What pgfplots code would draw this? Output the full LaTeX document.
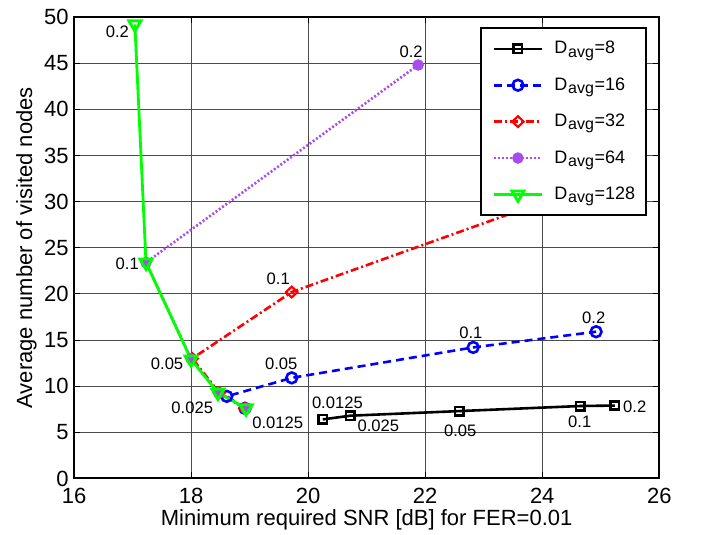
\documentclass[border=0pt]{standalone}
\usepackage{fontspec}
\setmainfont{Liberation Sans}
\usepackage{pgfplots}
\pgfplotsset{compat=1.18}
\usetikzlibrary{calc}
\definecolor{mpurple}{RGB}{166,77,235}
\definecolor{mgreen}{RGB}{0,255,0}
\newcommand{\Davg}[1]{D\kern0.4pt\raisebox{-1.6pt}{\fontsize{8}{9}\selectfont avg}\kern0.3pt=#1}
\newcommand{\lab}{\fontsize{8.3}{10}\selectfont}

\begin{document}
\begin{tikzpicture}
\begin{axis}[
  name=main,
  scale only axis, width=292.6pt, height=230.7pt,
  xmin=16, xmax=26, ymin=0, ymax=50,
  xtick={16,18,...,26}, ytick={0,5,...,50},
  grid=major, major grid style={black!70, line width=0.5pt},
  axis line style={line width=1pt},
  tick style={black, line width=0.5pt}, tick align=inside, major tick length=3pt,
  font=\fontsize{11}{13}\selectfont,
  /pgf/number format/assume math mode=true,
  xticklabel style={inner sep=0pt, yshift=-4.7pt},
  yticklabel style={inner sep=0pt, xshift=-2.5pt},
  xlabel={Minimum required SNR [dB] for FER=0.01},
  ylabel={Average number of visited nodes},
  xlabel style={at={(axis description cs:0.5,-0.0663)}, anchor=north, inner sep=0pt},
  ylabel style={at={(axis description cs:-0.0632,0.5)}, anchor=south, inner sep=0pt},
  clip=false,
  legend cell align=left,
  legend style={at={(axis description cs:0.9795,0.9783)}, anchor=north east,
    draw=black, line width=1pt, fill=white, inner xsep=5.6pt, inner ysep=6.4pt, row sep=10.2pt,
    nodes={inner sep=0pt, text height=6.5pt, text depth=1.5pt, font=\fontsize{9}{10}\selectfont}},
  legend image code/.code={%
    \draw[mark repeat=2,mark phase=2,#1] plot coordinates {(0pt,0pt)(12pt,0pt)(24pt,0pt)};
    \path (29.5pt,0pt);},
]
% D_avg = 8
\addplot[black, line width=1.3pt, mark=square, mark size=2.1pt, mark options={solid}]
  coordinates {(20.25,6.4) (20.72,6.8) (22.58,7.3) (24.65,7.85) (25.24,7.9)};
\addlegendentry{\Davg{8}}
% D_avg = 16
\addplot[blue, line width=1.3pt, dash pattern=on 4pt off 2.5pt, mark=o, mark size=2.7pt, mark options={solid}]
  coordinates {(18.92,7.6) (18.61,8.9) (19.72,10.9) (22.82,14.2) (24.92,15.9)};
\addlegendentry{\Davg{16}}
% D_avg = 32
\addplot[red, line width=1.3pt, dash pattern=on 4pt off 1.5pt on 1pt off 1.5pt, mark=diamond, mark size=2.7pt, mark options={solid, xscale=1.4, line width=1.1pt}]
  coordinates {(18.92,7.6) (18.48,9.3) (18.02,13.0) (19.72,20.2) (25.0,32.2)};
\addlegendentry{\Davg{32}}
% D_avg = 64
\addplot[mpurple, line width=1.3pt, dash pattern=on 1pt off 1pt, mark=*, mark size=2.2pt, mark options={solid}]
  coordinates {(18.94,7.55) (18.47,9.25) (18.0,12.95) (17.23,23.4) (21.88,44.8)};
\addlegendentry{\Davg{64}}
% D_avg = 128
\addplot[mgreen, line width=1.4pt, mark=triangle, mark size=3.5pt, mark options={solid, rotate=180}]
  coordinates {(18.94,7.6) (18.46,9.3) (18.0,12.9) (17.23,23.4) (17.04,49.2)};
\addlegendentry{\Davg{128}}

% rate labels
\node[font=\lab] at (axis cs:16.74,48.4) {0.2};
\node[font=\lab] at (axis cs:16.91,23.3) {0.1};
\node[font=\lab] at (axis cs:17.59,12.4) {0.05};
\node[font=\lab] at (axis cs:18.02,7.62) {0.025};
\node[font=\lab] at (axis cs:19.48,6.05) {0.0125};
\node[font=\lab] at (axis cs:19.54,12.44) {0.05};
\node[font=\lab] at (axis cs:20.5,8.2) {0.0125};
\node[font=\lab] at (axis cs:21.2,5.72) {0.025};
\node[font=\lab] at (axis cs:22.6,5.12) {0.05};
\node[font=\lab] at (axis cs:24.64,6.15) {0.1};
\node[font=\lab] at (axis cs:25.58,7.78) {0.2};
\node[font=\lab] at (axis cs:22.78,15.8) {0.1};
\node[font=\lab] at (axis cs:24.88,17.43) {0.2};
\node[font=\lab] at (axis cs:19.49,21.6) {0.1};
\node[font=\lab] at (axis cs:21.76,46.2) {0.2};
\end{axis}
\pgfresetboundingbox
\path ($(main.south west)+(-37pt,-27.85pt)$) rectangle ($(main.north east)+(20.85pt,8.5pt)$);
\end{tikzpicture}
\end{document}
